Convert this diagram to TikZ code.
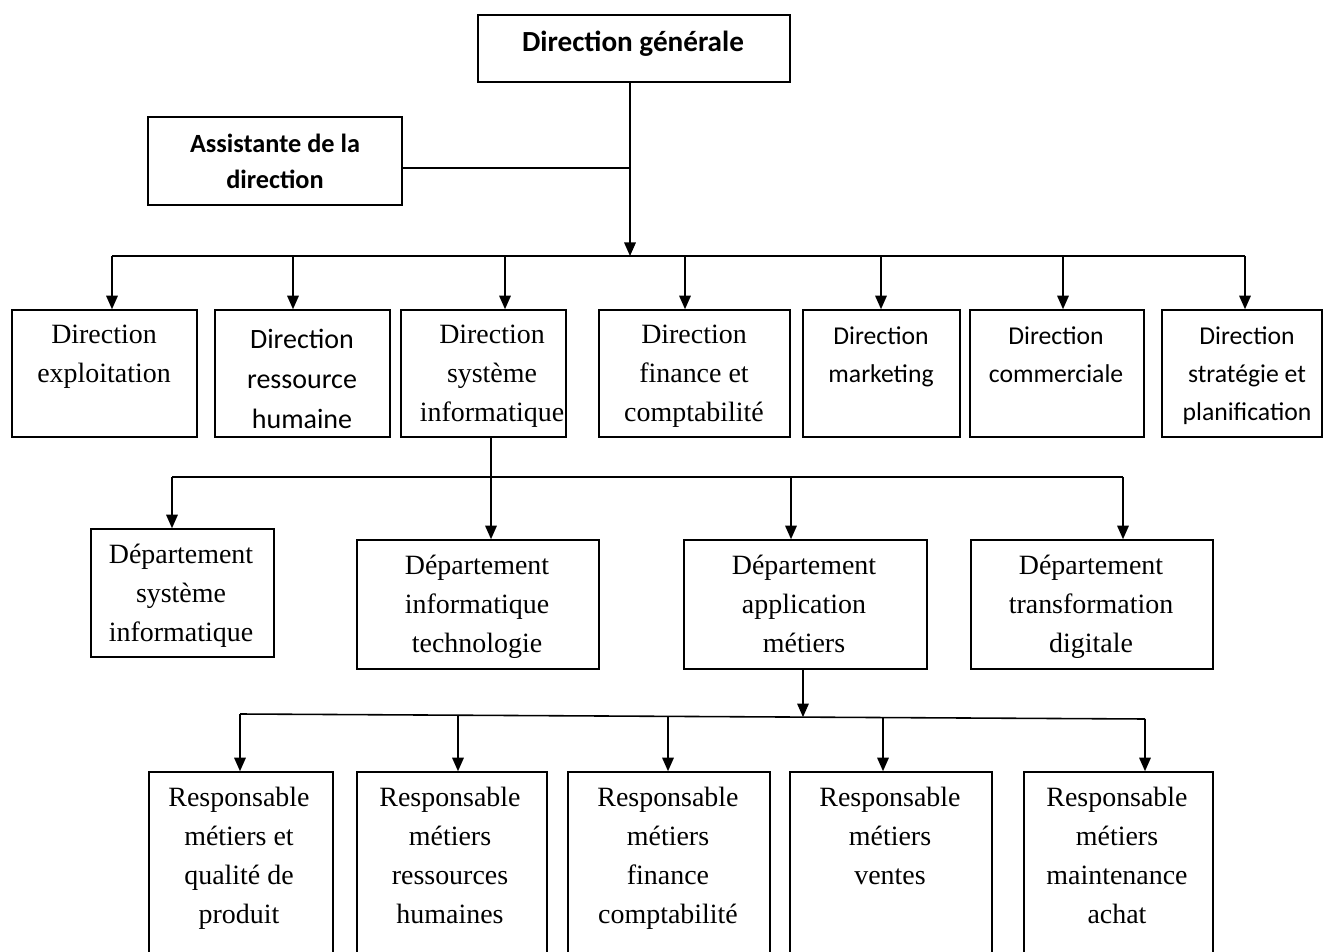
\documentclass[tikz,border=0pt]{standalone}
\usepackage{fontspec}
\setmainfont{Liberation Serif}
\newfontfamily\calibri{Carlito}
\usetikzlibrary{arrows.meta,fit}
\begin{document}
\begin{tikzpicture}[x=0.02cm,y=-0.02cm,
  box/.style={draw, line width=0.9pt, inner sep=0pt},
  lin/.style={line width=0.9pt},
  arr/.style={lin, -{Triangle[length=0.27cm,width=0.23cm]}},
  txt/.style={anchor=north, inner sep=0pt, align=center},
  serif/.style={txt, font=\fontsize{15.9pt}{22.3pt}\selectfont},
  sansA/.style={txt, font=\calibri\fontsize{15.93pt}{22.76pt}\selectfont},
  sansB/.style={txt, font=\calibri\fontsize{14.62pt}{21.62pt}\selectfont},
  boldA/.style={txt, font=\calibri\bfseries\fontsize{16.6pt}{20.5pt}\selectfont},
  boldB/.style={txt, font=\calibri\bfseries\fontsize{14.96pt}{20.5pt}\selectfont},
]
\useasboundingbox (0,0) rectangle (1325,952);
\clip (0,0) rectangle (1325,952);

% boxes
\node[box, fit={(478,15) (790,82)}] (dg) {};
\node[box, fit={(148,117) (402,205)}] (ast) {};
\node[box, fit={(12,310) (197,437)}] (b1) {};
\node[box, fit={(215,310) (390,437)}] (b2) {};
\node[box, fit={(401,310) (566,437)}] (b3) {};
\node[box, fit={(599,310) (790,437)}] (b4) {};
\node[box, fit={(803,310) (960,437)}] (b5) {};
\node[box, fit={(970,310) (1144,437)}] (b6) {};
\node[box, fit={(1162,310) (1322,437)}] (b7) {};
\node[box, fit={(91,529) (274,657)}] (c1) {};
\node[box, fit={(357,540) (599,669)}] (c2) {};
\node[box, fit={(684,540) (927,669)}] (c3) {};
\node[box, fit={(971,540) (1213,669)}] (c4) {};
\node[box, fit={(149,772) (333,965)}] (r1) {};
\node[box, fit={(357,772) (547,965)}] (r2) {};
\node[box, fit={(568,772) (770,965)}] (r3) {};
\node[box, fit={(790,772) (992,965)}] (r4) {};
\node[box, fit={(1024,772) (1213,965)}] (r5) {};

% texts
\node[boldA] (dgt) at (633,25.8) {\strut Direction générale};
\node[boldB] (astt) at (275,126.8) {\strut Assistante de la\\direction};
\node[serif] (b1t) at (104,315.6) {\strut Direction\\exploitation};
\node[sansA] (b2t) at (302,320) {\strut Direction\\ressource\\humaine};
\node[serif] (b3t) at (492,315.6) {\strut Direction\\système\\informatique};
\node[serif] (b4t) at (694,315.6) {\strut Direction\\finance et\\comptabilité};
\node[sansB] (b5t) at (881,317.4) {\strut Direction\\marketing};
\node[sansB] (b6t) at (1056,317.4) {\strut Direction\\commerciale};
\node[sansB] (b7t) at (1247,317.4) {\strut Direction\\stratégie et\\planification};
\node[serif] (c1t) at (181,535.6) {\strut Département\\système\\informatique};
\node[serif] (c2t) at (477,546.6) {\strut Département\\informatique\\technologie};
\node[serif] (c3t) at (804,546.6) {\strut Département\\application\\métiers};
\node[serif] (c4t) at (1091,546.6) {\strut Département\\transformation\\digitale};
\node[serif] (r1t) at (239,778.6) {\strut Responsable\\métiers et\\qualité de\\produit};
\node[serif] (r2t) at (450,778.6) {\strut Responsable\\métiers\\ressources\\humaines};
\node[serif] (r3t) at (668,778.6) {\strut Responsable\\métiers\\finance\\comptabilité};
\node[serif] (r4t) at (890,778.6) {\strut Responsable\\métiers\\ventes};
\node[serif] (r5t) at (1117,778.6) {\strut Responsable\\métiers\\maintenance\\achat};

% level 1 connectors
\coordinate (t1) at (630,256);
\coordinate (a1) at (402,168);
\coordinate (bL) at (112,256);
\coordinate (bR) at (1245,256);
\draw[arr] (dg.south -| t1) -- (t1);
\draw[lin] (a1) -- (a1 -| t1);
\draw[lin] (bL) -- (bR);
\foreach \x/\n in {112/b1, 293/b2, 505/b3, 685/b4, 881/b5, 1063/b6, 1245/b7}
  \draw[arr] (\x,256) -- (\x,0 |- \n.north);

% level 2 connectors
\coordinate (cL) at (172,477);
\coordinate (cR) at (1123,477);
\draw[lin] (cL) -- (cR);
\draw[arr] (491,0 |- b3.south) -- (491,0 |- c2.north);
\foreach \x/\n in {172/c1, 791/c3, 1123/c4}
  \draw[arr] (\x,477) -- (\x,0 |- \n.north);

% level 3 connectors (bus slightly slanted, as in the reference)
\coordinate (dL) at (240,714);
\coordinate (dR) at (1145,719);
\draw[lin] (dL) -- (dR);
\draw[arr] (803,0 |- c3.south) -- (803,717.1);
\foreach \x/\y/\n in {240/714/r1, 458/715.2/r2, 668/716.4/r3, 883/717.6/r4, 1145/719/r5}
  \draw[arr] (\x,\y) -- (\x,0 |- \n.north);
\end{tikzpicture}
\end{document}
